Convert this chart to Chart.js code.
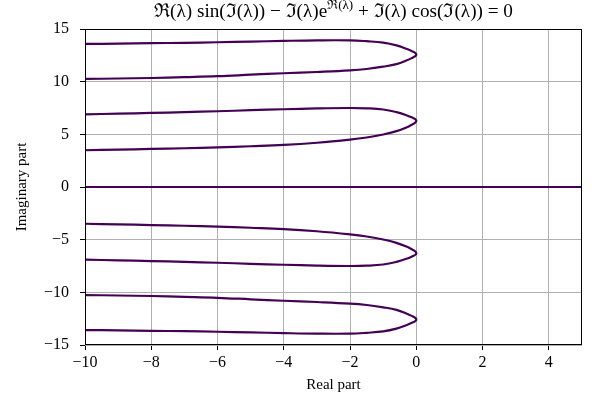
<!DOCTYPE html>
<html>
<head>
<meta charset="utf-8">
<script src="https://cdn.jsdelivr.net/npm/chart.js@4.4.0/dist/chart.umd.min.js"></script>
<style>
  body { margin: 0; background: #fff; }
  #wrap { width: 592px; height: 398px; }
</style>
</head>
<body>
<div id="wrap"><canvas id="chart" width="592" height="398"></canvas></div>
<script>
// Real part samples along each loop: left edge -> tip at Re = 0 -> back to left edge
const loopX = [-10, -9, -8, -7, -6, -5, -4, -3, -2, -1.5, -1, -0.6, -0.3, -0.1, -0.03, 0,
               -0.03, -0.1, -0.3, -0.6, -1, -1.5, -2, -3, -4, -5, -6, -7, -8, -9, -10];

// Imaginary part for each loop
const loopTop = [13.58, 13.61, 13.65, 13.69, 13.74, 13.8, 13.87, 13.92, 13.92, 13.84, 13.71, 13.45, 13.12, 12.85, 12.72, 12.57,
                 12.42, 12.3, 12.0, 11.66, 11.42, 11.2, 11.07, 10.92, 10.8, 10.66, 10.52, 10.43, 10.35, 10.3, 10.26];
const loopUpper = [6.9, 6.96, 7.03, 7.11, 7.19, 7.29, 7.38, 7.46, 7.5, 7.47, 7.36, 7.11, 6.82, 6.55, 6.43, 6.28,
                   6.12, 5.98, 5.65, 5.3, 4.98, 4.7, 4.5, 4.2, 3.99, 3.87, 3.77, 3.68, 3.61, 3.55, 3.49];
const loopLower = [-6.9, -6.96, -7.03, -7.11, -7.19, -7.29, -7.38, -7.46, -7.5, -7.47, -7.36, -7.11, -6.82, -6.55, -6.43, -6.28,
                   -6.12, -5.98, -5.65, -5.3, -4.98, -4.7, -4.5, -4.2, -3.99, -3.87, -3.77, -3.68, -3.61, -3.55, -3.49];
const loopBottom = [-13.58, -13.61, -13.65, -13.69, -13.74, -13.8, -13.87, -13.92, -13.92, -13.84, -13.71, -13.45, -13.12, -12.85, -12.72, -12.57,
                    -12.42, -12.3, -12.0, -11.66, -11.42, -11.2, -11.07, -10.92, -10.8, -10.66, -10.52, -10.43, -10.35, -10.3, -10.26];

// the real axis is a solution everywhere
const zeroX = [-10, 5];
const zeroY = [0, 0];

const xTicks = [-10, -8, -6, -4, -2, 0, 2, 4];
const yTicks = [-15, -10, -5, 0, 5, 10, 15];

const LINE_COLOR = '#440154';
const SERIF = '"Liberation Serif", "DejaVu Serif", serif';

function toPoints(xs, ys) {
    return xs.map((x, i) => ({ x: x, y: ys[i] }));
}

function curve(xs, ys) {
    return {
        data: toPoints(xs, ys),
        showLine: true,
        borderColor: LINE_COLOR,
        borderWidth: 2.2,
        pointRadius: 0,
        tension: 0.4,
        fill: false
    };
}

function fmt(v) {
    return v < 0 ? '\u2212' + Math.abs(v) : String(v);
}

// title with a superscript, plus the box around the plot area
const titleAndFrame = {
    id: 'titleAndFrame',
    afterDraw(chart) {
        const { ctx, chartArea: a } = chart;
        ctx.save();
        ctx.strokeStyle = '#000';
        ctx.lineWidth = 1;
        ctx.strokeRect(Math.round(a.left) + 0.5, Math.round(a.top) + 0.5,
            Math.round(a.right - a.left) - 1, Math.round(a.bottom - a.top) - 1);

        const big = '19.2px ' + SERIF;
        const small = '13px ' + SERIF;
        const parts = [
            ['\u211C(\u03BB) sin(\u2111(\u03BB)) \u2212 \u2111(\u03BB)e', big, 0],
            ['\u211C(\u03BB)', small, -8],
            [' + \u2111(\u03BB) cos(\u2111(\u03BB)) = 0', big, 0]
        ];
        let total = 0;
        parts.forEach(p => { ctx.font = p[1]; total += ctx.measureText(p[0]).width; });
        let x = (a.left + a.right) / 2 - total / 2;
        ctx.fillStyle = '#000';
        ctx.textBaseline = 'alphabetic';
        parts.forEach(p => {
            ctx.font = p[1];
            ctx.fillText(p[0], x, 16.5 + p[2]);
            x += ctx.measureText(p[0]).width;
        });
        ctx.restore();
    }
};

const ctx = document.getElementById('chart').getContext('2d');

new Chart(ctx, {
    type: 'scatter',
    data: {
        datasets: [
            curve(loopX, loopTop),
            curve(loopX, loopUpper),
            curve(zeroX, zeroY),
            curve(loopX, loopLower),
            curve(loopX, loopBottom)
        ]
    },
    options: {
        responsive: false,
        animation: false,
        layout: { padding: { top: 29, right: 10, left: 0, bottom: 0 } },
        plugins: {
            legend: { display: false },
            tooltip: { enabled: false }
        },
        scales: {
            x: {
                type: 'linear',
                min: -10,
                max: 5,
                afterFit: (s) => { s.height = 53; },
                afterBuildTicks: (s) => { s.ticks = xTicks.map(v => ({ value: v })); },
                border: { display: false },
                grid: { color: '#b0b0b0', lineWidth: 1, tickColor: '#000', tickLength: 5 },
                ticks: {
                    color: '#000',
                    padding: 3,
                    maxRotation: 0,
                    font: { family: SERIF, size: 16 },
                    callback: fmt
                },
                title: {
                    display: true,
                    text: 'Real part',
                    color: '#000',
                    font: { family: SERIF, size: 15 },
                    padding: { top: 0, bottom: 4 }
                }
            },
            y: {
                type: 'linear',
                min: -15,
                max: 15,
                afterFit: (s) => { s.width = 85; },
                afterBuildTicks: (s) => { s.ticks = yTicks.map(v => ({ value: v })); },
                border: { display: false },
                grid: { color: '#b0b0b0', lineWidth: 1, tickColor: '#000', tickLength: 5 },
                ticks: {
                    color: '#000',
                    padding: 11,
                    font: { family: SERIF, size: 16 },
                    callback: fmt
                },
                title: {
                    display: true,
                    text: 'Imaginary part',
                    color: '#000',
                    font: { family: SERIF, size: 15 },
                    padding: { top: 13, bottom: 0 }
                }
            }
        }
    },
    plugins: [titleAndFrame]
});
</script>
</body>
</html>
